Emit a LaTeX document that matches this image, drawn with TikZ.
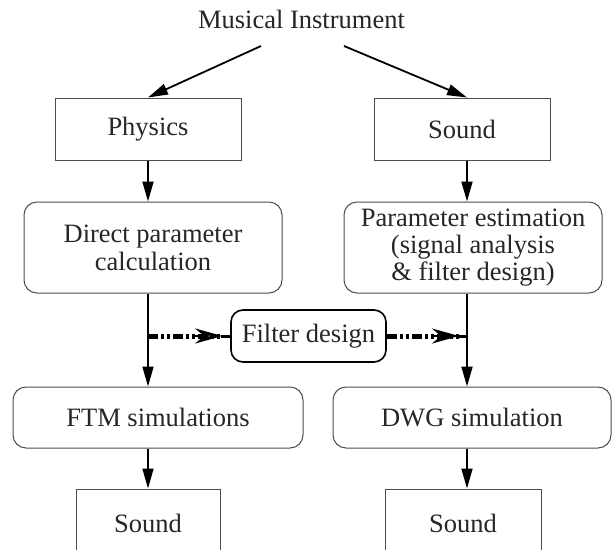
\documentclass[tikz,border=0pt]{standalone}
\usepackage{fontspec}
\setmainfont{Liberation Serif}
\usetikzlibrary{arrows.meta,calc}
\begin{document}
\begin{tikzpicture}[x=1pt,y=-1pt,
  every node/.style={font=\fontsize{26.5}{27}\selectfont, text=black!85, inner sep=0pt, align=center},
  sqbox/.style={draw=black!70, line width=1pt, rectangle},
  rbox/.style={draw=black!70, line width=1pt, rectangle, rounded corners=13pt},
  fbox/.style={draw=black, line width=1.6pt, rectangle, rounded corners=12pt},
  arr/.style={line width=1.8pt, -{Triangle[length=20pt,width=11pt]}},
  dashln/.style={line width=5pt, dash pattern=on 10pt off 3pt on 3pt off 3pt on 3pt off 3pt},
  openarr/.style={-{Stealth[open,length=27pt,width=15pt,inset=9pt,line width=3pt]}}
]
\useasboundingbox (0,0) rectangle (613,549);
\coordinate (colL) at (148,0);
\coordinate (colR) at (467,0);

\node (mi) at (301.5,19) {Musical Instrument};
\coordinate (miL) at (261,46);
\coordinate (miR) at (344,46);

\node[sqbox, minimum width=186pt, minimum height=62pt] (phys) at (148,129) {Physics};
\node[sqbox, minimum width=176pt, minimum height=62pt] (snd) at (462,129) {Sound};

\node[rbox, minimum width=258pt, minimum height=91pt] (dpc) at (153,247.5) {Direct parameter\\[1pt]calculation};
\node[rbox, minimum width=258pt, minimum height=91pt] (pe) at (473,247.5) {Parameter estimation\\(signal analysis\\\& filter design)};

\node[fbox, minimum width=155pt, minimum height=52pt] (fd) at (308.5,336) {Filter design};

\node[rbox, minimum width=290pt, minimum height=61pt] (ftm) at (158,417.5) {FTM simulations};
\node[rbox, minimum width=278pt, minimum height=61pt] (dwg) at (472,417.5) {DWG simulation};

\node[sqbox, minimum width=144pt, minimum height=80pt] (s1) at (148,529) {};
\node (s1t) at (148,523) {Sound};
\node[sqbox, minimum width=156pt, minimum height=80pt] (s2) at (463,529) {};
\node (s2t) at (463,523) {Sound};

% diagonal arrows
\draw[arr] (miL) -- (phys.north -| colL);
\draw[arr] (miR) -- (snd.north -| colR);

% vertical arrows
\draw[arr] (phys.south -| colL) -- (dpc.north -| colL);
\draw[arr] (snd.south -| colR) -- (pe.north -| colR);
\draw[arr] (dpc.south -| colL) -- (ftm.north -| colL);
\draw[arr] (pe.south -| colR) -- (dwg.north -| colR);
\draw[arr] (ftm.south -| colL) -- (s1.north -| colL);
\draw[arr] (dwg.south -| colR) -- (s2.north -| colR);

% filter design dashed arrows
\coordinate (fl) at (fd.west -| colL);
\coordinate (fr) at (fd.east -| colR);
\draw[dashln] (fl) -- ($(fd.west)+(-8,0)$);
\draw[line width=3pt] ($(fd.west)+(-9,0)$) -- (fd.west);
\draw[line width=2.5pt, openarr] ($(fd.west)+(-36,0)$) -- ($(fd.west)+(-8,0)$);
\draw[dashln] (fd.east) -- ($(fr)+(-8,0)$);
\draw[line width=3pt] ($(fr)+(-9,0)$) -- (fr);
\draw[line width=2.5pt, openarr] ($(fr)+(-36,0)$) -- ($(fr)+(-8,0)$);
\end{tikzpicture}
\end{document}
